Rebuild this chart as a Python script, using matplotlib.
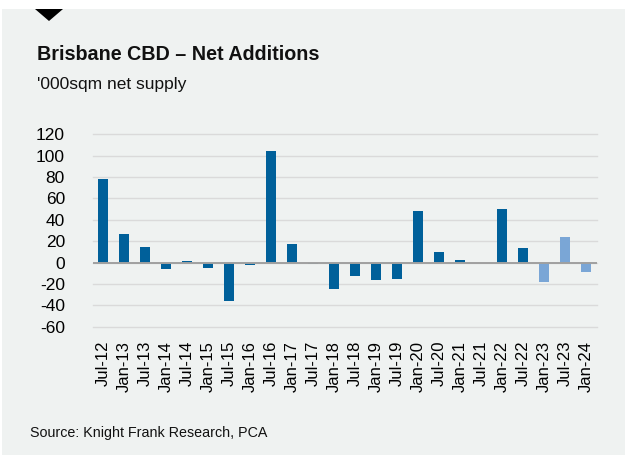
"""Brisbane CBD net additions bar chart."""

import matplotlib
matplotlib.use("Agg")
import matplotlib.pyplot as plt
from matplotlib.patches import Rectangle, Polygon

periods = [
    "Jul-12", "Jan-13", "Jul-13", "Jan-14", "Jul-14", "Jan-15", "Jul-15", "Jan-16",
    "Jul-16", "Jan-17", "Jul-17", "Jan-18", "Jul-18", "Jan-19", "Jul-19", "Jan-20",
    "Jul-20", "Jan-21", "Jul-21", "Jan-22", "Jul-22", "Jan-23", "Jul-23", "Jan-24",
]
net_supply = [
    78, 26.5, 15, -5.6, 1.3, -5.3, -35.5, -2,
    104, 17.5, -1, -24.6, -12, -16.5, -15.6, 48.4,
    9.7, 2.4, 0, 50.5, 13.8, -17.7, 24, -8.4,
]
# last three periods are forecast (lighter)
forecast = [False] * 21 + [True] * 3

DARK = "#00609a"
LIGHT = "#7aa6d6"
BG = "#eff2f1"

plt.rcParams["font.family"] = ["Liberation Sans", "DejaVu Sans"]
plt.rcParams["axes.unicode_minus"] = False

W, H = 625, 455
fig = plt.figure(figsize=(W / 100, H / 100), dpi=100, facecolor="white")
fig.patches.append(Rectangle((2 / W, 0), 1, 1 - 9 / H, transform=fig.transFigure,
                             facecolor=BG, edgecolor="none", zorder=-10))
fig.patches.append(Polygon([(35 / W, 1 - 9 / H), (63 / W, 1 - 9 / H), (49 / W, 1 - 21 / H)],
                           closed=True, transform=fig.transFigure,
                           facecolor="black", edgecolor="none"))

fig.text(37 / W, 1 - 60 / H, "Brisbane CBD \u2013 Net Additions", fontsize=14.2,
         fontweight="bold", color="#111111", va="baseline")
fig.text(37 / W, 1 - 89 / H, "'000sqm net supply", fontsize=12.5,
         color="#111111", va="baseline")
fig.text(30 / W, 1 - 437 / H, "Source: Knight Frank Research, PCA", fontsize=10.3,
         color="#111111", va="baseline")

ax = fig.add_axes([92.7 / W, 1 - 326.9 / H, 504 / W, 192.6 / H])
ax.set_facecolor("none")
x = list(range(len(periods)))
colors = [LIGHT if f else DARK for f in forecast]
ax.bar(x, net_supply, width=0.5, color=colors, zorder=3)
ax.axhline(0, color="#a0a0a0", lw=1.4, zorder=4)

ax.set_xlim(-0.5, len(periods) - 0.5)
ax.set_ylim(-60, 120)
ax.set_yticks(range(-60, 121, 20))
ax.set_xticks(x)
ax.set_xticklabels(periods, rotation=90, fontsize=12)
ax.tick_params(axis="y", labelsize=12.5, length=0, pad=20)
ax.tick_params(axis="x", length=0, pad=10)
ax.grid(True, axis="y", color="#dadada", lw=1, zorder=0, clip_on=False)
for s in ax.spines.values():
    s.set_visible(False)

fig.savefig("out.png", dpi=100, facecolor=fig.get_facecolor())
